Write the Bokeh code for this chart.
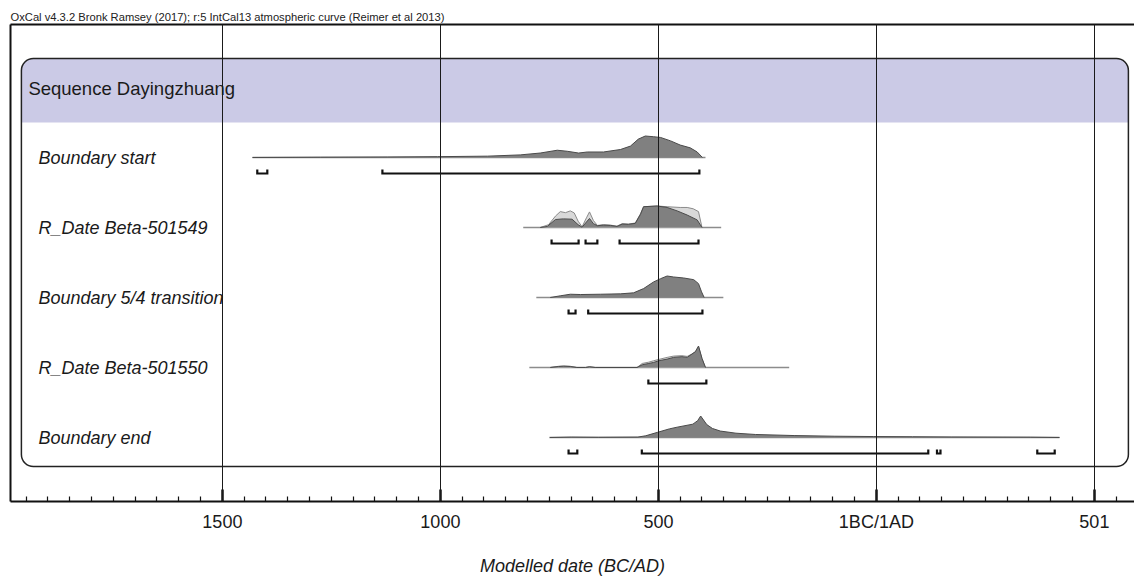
from bokeh.plotting import figure
from bokeh.models import Range1d, FixedTicker, LinearAxis, BoxAnnotation
from bokeh.core.properties import value
from bokeh.embed import file_html
from bokeh.resources import INLINE

# ---------------- data ----------------
HEADER = "OxCal v4.3.2 Bronk Ramsey (2017); r:5 IntCal13 atmospheric curve (Reimer et al 2013)"
SEQUENCE = "Sequence Dayingzhuang"
ROW_NAMES = ["Boundary start", "R_Date Beta-501549", "Boundary 5/4 transition",
             "R_Date Beta-501550", "Boundary end"]

TICK_YEARS = [-1500, -1000, -500, 0, 500]
TICK_LABELS = ["1500", "1000", "500", "1BC/1AD", "501"]

# plotted span of each row (years, BC negative)
SPAN_START = [-1431, -810, -780, -796, -750]
SPAN_END = [-392, -356, -351, -200, 420]

# Boundary start (posterior)
BS_YEAR = [-1431, -1275, -1122, -1007, -892, -817, -771, -732, -709, -683, -663, -626,
           -587, -564, -546, -530, -511, -495, -472, -450, -427, -411, -399]
BS_POST = [0, 0.3, 0.5, 0.8, 1.3, 2.5, 4.3, 7, 6, 4.3, 5.3, 5.3,
           7.7, 11, 17.7, 20.7, 20, 19.3, 16, 12, 9.3, 5.3, 0]

# R_Date Beta-501549
R1_POST_YEAR = [-771, -755, -736, -718, -698, -684, -675, -665, -658, -649, -640, -626,
                -610, -595, -583, -569, -553, -541, -534, -503, -480, -457, -434, -411, -400]
R1_POST = [0, 1, 7.7, 8.3, 8, 2.7, 0.3, 5.3, 8.7, 3.7, 1.7, 2.3,
           2, 1, 3.3, 3, 4, 12.7, 20, 20.7, 19.3, 16, 12, 7.3, 0]
R1_LIK_YEAR = [-771, -752, -736, -725, -713, -702, -693, -684, -675, -665, -658, -649,
               -640, -626, -610, -595, -583, -569, -553, -541, -534, -503, -480, -450,
               -434, -420, -408, -400]
R1_LIK = [0, 2.7, 11, 15.3, 14.3, 16, 14, 6, 0.7, 9.3, 15, 6.7,
          2, 2.7, 2.3, 1.3, 3.7, 3.3, 4.3, 13.3, 20, 20.7, 20, 19.3,
          19.3, 18, 15.3, 0]

# Boundary 5/4 transition (posterior)
TR_YEAR = [-748, -725, -702, -679, -633, -587, -557, -534, -511, -495, -480, -465,
           -442, -419, -408, -401, -395]
TR_POST = [0, 1.7, 3.3, 3, 3.3, 3.7, 4.7, 9, 15.7, 19, 21.7, 20.7,
           19.7, 18, 14, 5.7, 0]

# R_Date Beta-501550
R2_YEAR = [-748, -729, -717, -702, -687, -667, -658, -645, -549, -537, -522, -511,
           -499, -480, -465, -446, -434, -423, -415, -408, -400, -392]
R2_POST = [0, 1, 1.3, 1, 0, 0, 0.7, 0, 0, 2.7, 4, 5,
           6.7, 8.3, 10, 10.7, 10, 13.3, 15.7, 21.3, 9, 0]
R2_LIK = [0, 1.2, 1.5, 1.2, 0, 0, 0.8, 0, 0, 4, 5.3, 6.7,
          8, 10, 11.3, 11.7, 11, 13.3, 15.7, 20.7, 8.7, 0]

# Boundary end (posterior)
BE_YEAR = [-749, -700, -637, -547, -529, -502, -475, -457, -439, -421, -410, -403,
           -389, -376, -358, -322, -277, -187, -97, -7, 83, 173, 263, 353, 420]
BE_POST = [0, 0.02, 0.01, 0.02, 0.08, 0.24, 0.4, 0.48, 0.55, 0.62, 0.78, 1.0,
           0.6, 0.42, 0.3, 0.2, 0.14, 0.09, 0.06, 0.045, 0.035, 0.025, 0.02, 0.015, 0]

# 95.4% ranges per row
RANGES = [
    [(-1420, -1397), (-1133, -406)],
    [(-745, -683), (-667, -640), (-589, -408)],
    [(-706, -690), (-661, -399)],
    [(-523, -390)],
    [(-706, -686), (-538, 119), (139, 147), (369, 409)],
]

ROWS = [
    dict(lik=None, post=(BS_YEAR, BS_POST)),
    dict(lik=(R1_LIK_YEAR, R1_LIK), post=(R1_POST_YEAR, R1_POST)),
    dict(lik=None, post=(TR_YEAR, TR_POST)),
    dict(lik=(R2_YEAR, R2_LIK), post=(R2_YEAR, R2_POST)),
    dict(lik=None, post=(BE_YEAR, BE_POST)),
]

# ---------------- layout constants ----------------
ROW_PX = 70.0
PEAK = 21.5 / ROW_PX
BRACKET_OFF = 16 / ROW_PX
BRACKET_TICK = 4 / ROW_PX
FONT = "Liberation Sans"
INK = "#1a1a1a"

X0, X1 = -1986, 592
p = figure(width=1134, height=579, output_backend="svg", toolbar_location=None,
           x_range=Range1d(X0, X1), y_range=Range1d(-344 / ROW_PX, 133 / ROW_PX),
           min_border_left=10, min_border_right=0, min_border_top=24, min_border_bottom=78,
           background_fill_color="white", border_fill_color="white",
           outline_line_color=None)

# title (header line)
p.title.text = HEADER
p.title.text_font = FONT
p.title.text_font_size = "11.2px"
p.title.text_font_style = "normal"
p.title.text_color = "#222222"
p.title.align = "left"
p.title.standoff = 4

# rounded sequence box
BOX_L, BOX_R = -1961, 578
BOX_TOP, BOX_BOT = 99 / ROW_PX, -309 / ROW_PX
BAND_BOT = 35 / ROW_PX
p.add_layout(BoxAnnotation(left=BOX_L, right=BOX_R, top=BOX_TOP, bottom=BAND_BOT,
                           fill_color="#CBCAE6", fill_alpha=1.0, line_color=None,
                           border_radius=dict(top_left=12, top_right=12, bottom_right=0, bottom_left=0),
                           level="underlay"))
p.add_layout(BoxAnnotation(left=BOX_L, right=BOX_R, top=BOX_TOP, bottom=BOX_BOT,
                           fill_color=None, fill_alpha=0, line_color="#222222", line_alpha=1.0,
                           line_width=1.5, border_radius=12, level="underlay"))

p.text(x=[-1945], y=[69 / ROW_PX], text=[SEQUENCE], text_font=value(FONT),
       text_font_size="18.5px", text_color=INK, text_baseline="middle", text_align="left")

for i, row in enumerate(ROWS):
    base = -i
    p.line([SPAN_START[i], SPAN_END[i]], [base, base], line_color="#8c8c8c", line_width=1.5)
    series = []
    if row["lik"] is not None:
        series.append(row["lik"])
    series.append(row["post"])
    m = max(max(s[1]) for s in series)
    if row["lik"] is not None:
        xs, vs = row["lik"]
        top = [base + v / m * PEAK for v in vs]
        p.varea(x=xs, y1=[base] * len(xs), y2=top, fill_color="#d9d9d9")
        p.line(xs, top, line_color="#8a8a8a", line_width=1)
    xs, vs = row["post"]
    top = [base + v / m * PEAK for v in vs]
    p.varea(x=xs, y1=[base] * len(xs), y2=top, fill_color="#808080")
    p.line(xs, top, line_color="#4a4a4a", line_width=1)

    yb = base - BRACKET_OFF
    bx, by = [], []
    for a, b in RANGES[i]:
        bx.append([a, a, b, b])
        by.append([yb + BRACKET_TICK, yb, yb, yb + BRACKET_TICK])
    p.multi_line(bx, by, line_color="#111111", line_width=2.2, line_join="miter")

    p.text(x=[-1922], y=[base], text=[ROW_NAMES[i]], text_font=value(FONT),
           text_font_size="18px", text_font_style="italic", text_color=INK,
           text_baseline="middle", text_align="left")

# axes
minor = [y for y in range(-1950, 600, 50) if y not in TICK_YEARS]
ticker = FixedTicker(ticks=TICK_YEARS, minor_ticks=minor)
xa = p.xaxis[0]
xa.ticker = ticker
xa.major_label_overrides = {t: l for t, l in zip(TICK_YEARS, TICK_LABELS)}
xa.axis_line_width = 2
xa.axis_line_color = "#111111"
xa.major_tick_in = 12
xa.major_tick_out = 0
xa.major_tick_line_width = 2.5
xa.major_tick_line_color = "#111111"
xa.minor_tick_in = 5
xa.minor_tick_out = 0
xa.minor_tick_line_width = 1.2
xa.minor_tick_line_color = "#111111"
xa.major_label_text_font = FONT
xa.major_label_text_font_size = "18px"
xa.major_label_text_color = INK
xa.major_label_standoff = 10
xa.axis_label = "Modelled date (BC/AD)"
xa.axis_label_text_font = FONT
xa.axis_label_text_font_size = "18px"
xa.axis_label_text_font_style = "italic"
xa.axis_label_text_color = INK
xa.axis_label_standoff = 21

ya = p.yaxis[0]
ya.ticker = FixedTicker(ticks=[])
ya.axis_line_width = 2
ya.axis_line_color = "#111111"
ya.major_tick_in = 0
ya.major_tick_out = 0
ya.minor_tick_in = 0
ya.minor_tick_out = 0
ya.major_label_text_font_size = "0px"

top_axis = LinearAxis(ticker=FixedTicker(ticks=[]), axis_line_width=2, axis_line_color="#111111",
                      major_tick_in=0, major_tick_out=0, minor_tick_in=0, minor_tick_out=0,
                      major_label_text_font_size="0px")
p.add_layout(top_axis, "above")

p.xgrid.ticker = ticker
p.xgrid.grid_line_color = "#1a1a1a"
p.xgrid.grid_line_width = 1
p.xgrid.level = "overlay"
p.ygrid.visible = False

open("out.html", "w").write(file_html(p, INLINE))
